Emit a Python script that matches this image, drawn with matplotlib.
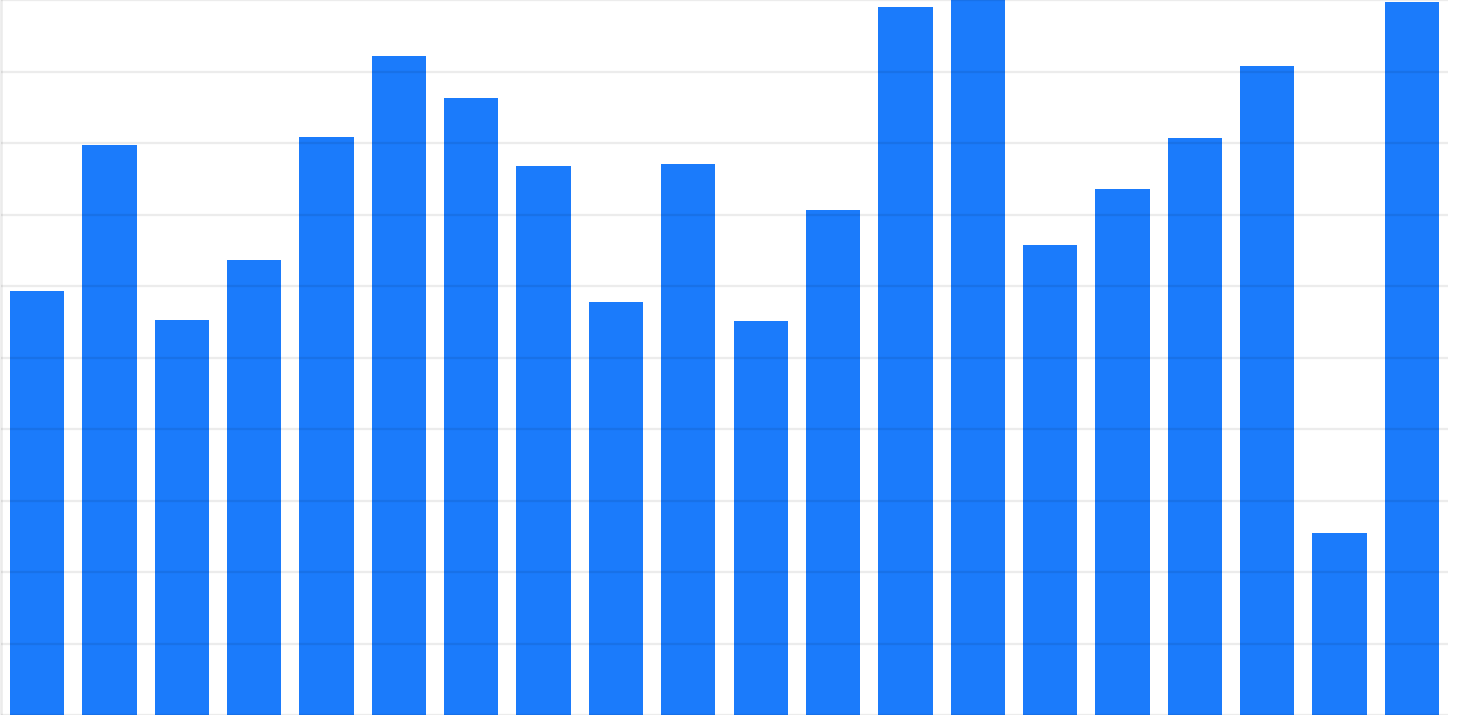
import matplotlib
matplotlib.use("Agg")
import matplotlib.pyplot as plt

# bar heights (grid step = 10)
categories = list(range(1, 21))
values = [59.3, 79.7, 55.3, 63.6, 80.8, 92.1, 86.3, 76.8, 57.8, 77.1,
          55.1, 70.6, 99.0, 101.0, 65.8, 73.5, 80.7, 90.8, 25.4, 99.7]

bar_color = '#1b7bfb'
grid_color = '#ebebeb'

W, H = 1459, 715
fig = plt.figure(figsize=(W / 100, H / 100), dpi=100)
ax = fig.add_axes([1 / W, 0, 1447 / W, 1])

x = list(range(len(categories)))
ax.bar(x, values, width=0.75, color=bar_color, zorder=1)

ax.set_xlim(-0.5, len(categories) - 0.5)
ax.set_ylim(0.7, 99.9)
ax.set_yticks(range(0, 101, 10))
ax.yaxis.grid(True, color='black', alpha=0.075, linewidth=1.7, zorder=3)
ax.set_axisbelow(False)
ax.tick_params(left=False, bottom=False, labelleft=False, labelbottom=False)

for s in ['top', 'right', 'bottom']:
    ax.spines[s].set_visible(False)
ax.spines['left'].set_color(grid_color)
ax.spines['left'].set_linewidth(1.8)

fig.savefig('out.png', dpi=100)
